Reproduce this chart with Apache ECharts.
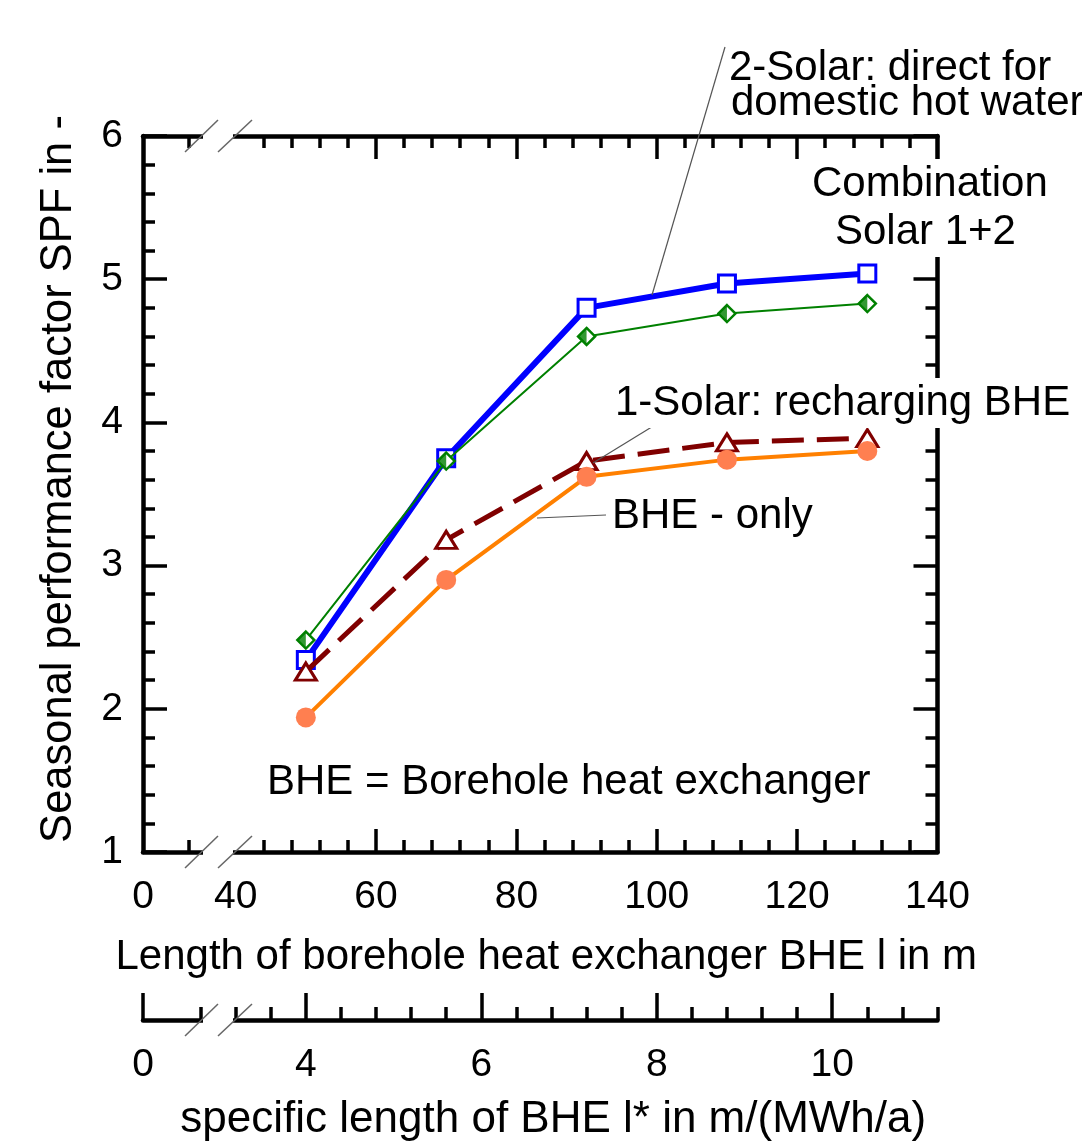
<!DOCTYPE html>
<html><head><meta charset="utf-8">
<script src="https://cdn.jsdelivr.net/npm/echarts@6/dist/echarts.min.js"></script>
<style>html,body{margin:0;padding:0;background:#fff}#c{width:1082px;height:1143px}</style>
</head><body><div id="c"></div>
<script>
// ---- data ----
const lengths = [50, 70, 90, 110, 130];
const solar2Direct = [2.34, 3.75, 4.80, 4.97, 5.04];
const combination = [2.48, 3.73, 4.60, 4.76, 4.83];
const solar1Recharge = [2.26, 3.18, 3.73, 3.86, 3.89];
const bheOnly = [1.94, 2.90, 3.62, 3.74, 3.80];
const lengthTickLabels = [0, 40, 60, 80, 100, 120, 140];
const specTickLabels = [0, 4, 6, 8, 10];
const spfTickLabels = [1, 2, 3, 4, 5, 6];
const specFactor = 12.5; // m of BHE per MWh/a

// ---- axis setup (broken axis: "0" drawn at BREAK_ZERO) ----
const BREAK_ZERO = 26.8;
const X_MAX = 140;
const FONT = "'Liberation Sans', Arial, sans-serif";
const lenAxisVal = v => v === 0 ? BREAK_ZERO : v;
const specAxisVal = s => s === 0 ? BREAK_ZERO : s * specFactor;

const majorLen = lengthTickLabels.filter(v => v > 40 && v < 140);
const minorLen = [33.36];
for (let v = 44; v < 140; v += 4) if (v % 20 !== 0) minorLen.push(v);
const majorSpec = specTickLabels.map(specAxisVal);
const minorSpec = [];
for (let k = 7; k <= 28; k++) { const s = k * 0.4; if (Math.abs(s - Math.round(s / 2) * 2) > 1e-6) minorSpec.push(s * specFactor); }

const pairs = arr => lengths.map((x, i) => [x, arr[i]]);
const lineAxis = { show: true, lineStyle: { color: '#000', width: 4.5 } };
const noLine = { show: false };

function xAx(grid, pos, opts) {
  return Object.assign({
    type: 'value', gridIndex: grid, position: pos, min: BREAK_ZERO, max: X_MAX,
    splitLine: { show: false }, axisLine: noLine, axisLabel: { show: false },
    axisTick: { show: false }
  }, opts);
}
const tickStyle = { color: '#000', width: 3.5 };
const labelStyle = { color: '#000', fontSize: 39, fontFamily: FONT };

const option = {
  animation: false,
  backgroundColor: '#fff',
  grid: [
    { left: 143, right: 144.5, top: 136, bottom: 291 },
    { left: 143, right: 144.5, top: 1019, height: 1 }
  ],
  xAxis: [
    xAx(0, 'bottom', {
      axisLine: lineAxis,
      axisTick: { show: true, inside: true, length: 23, lineStyle: tickStyle, customValues: majorLen },
      axisLabel: { show: true, margin: 26, ...labelStyle, customValues: lengthTickLabels.map(lenAxisVal),
        formatter: v => v < 30 ? '0' : String(Math.round(v)) },
      name: 'Length of borehole heat exchanger BHE l in m', nameLocation: 'middle', nameGap: 84,
      nameTextStyle: { color: '#000', fontSize: 42, fontFamily: FONT, padding: [0, 0, 0, 12] }
    }),
    xAx(0, 'bottom', { axisTick: { show: true, inside: true, length: 12, lineStyle: tickStyle, customValues: minorLen } }),
    xAx(0, 'top', { axisLine: lineAxis, axisTick: { show: true, inside: true, length: 23, lineStyle: tickStyle, customValues: majorLen } }),
    xAx(0, 'top', { axisTick: { show: true, inside: true, length: 12, lineStyle: tickStyle, customValues: minorLen } }),
    xAx(1, 'bottom', {
      axisLine: lineAxis,
      axisTick: { show: true, inside: true, length: 27, lineStyle: tickStyle, customValues: majorSpec },
      axisLabel: { show: true, margin: 26, ...labelStyle, customValues: majorSpec,
        formatter: v => v < 30 ? '0' : String(Math.round(v / specFactor)) },
      name: 'specific length of BHE l* in m/(MWh/a)', nameLocation: 'middle', nameGap: 78,
      nameTextStyle: { color: '#000', fontSize: 44, fontFamily: FONT, padding: [0, 0, 0, 26] }
    }),
    xAx(1, 'bottom', { axisTick: { show: true, inside: true, length: 13, lineStyle: tickStyle, customValues: minorSpec } })
  ],
  yAxis: [
    {
      type: 'value', gridIndex: 0, position: 'left', min: spfTickLabels[0], max: spfTickLabels[spfTickLabels.length - 1], interval: 1,
      splitLine: { show: false }, axisLine: lineAxis,
      axisTick: { show: true, inside: true, length: 24, lineStyle: tickStyle },
      minorTick: { show: true, splitNumber: 5, length: 12, lineStyle: tickStyle },
      axisLabel: { show: true, margin: 20, ...labelStyle },
      name: 'Seasonal performance factor SPF in -', nameLocation: 'middle', nameGap: 62,
      nameTextStyle: { color: '#000', fontSize: 43.5, fontFamily: FONT, padding: [0, 0, 0, 30] }
    },
    {
      type: 'value', gridIndex: 0, position: 'right', min: spfTickLabels[0], max: spfTickLabels[spfTickLabels.length - 1], interval: 1,
      splitLine: { show: false }, axisLine: lineAxis,
      axisTick: { show: true, inside: true, length: 24, lineStyle: tickStyle },
      minorTick: { show: true, splitNumber: 5, length: 12, lineStyle: tickStyle },
      axisLabel: { show: false }
    },
    { type: 'value', gridIndex: 1, show: false, min: 0, max: 1 }
  ],
  series: [
    { name: '2-Solar', type: 'line', xAxisIndex: 0, yAxisIndex: 0, data: pairs(solar2Direct), z: 3,
      lineStyle: { color: '#0000ff', width: 6 }, symbol: 'rect', symbolSize: 17, showAllSymbol: true,
      itemStyle: { color: '#fff', borderColor: '#0000ff', borderWidth: 3 } },
    { name: 'Combination', type: 'line', xAxisIndex: 0, yAxisIndex: 0, data: pairs(combination), z: 4,
      lineStyle: { color: '#008000', width: 2 }, symbol: 'diamond', symbolSize: 17,
      itemStyle: { color: '#fff', borderColor: '#008000', borderWidth: 2.5 } },
    { name: 'Combination-fill', type: 'scatter', xAxisIndex: 0, yAxisIndex: 0, data: pairs(combination), z: 5, silent: true,
      symbol: 'path://M5,0 L0,5 L5,10 Z', symbolSize: [8.5, 17], symbolOffset: [-4.25, 0],
      itemStyle: { color: '#008000' } },
    { name: '1-Solar', type: 'line', xAxisIndex: 0, yAxisIndex: 0, data: pairs(solar1Recharge), z: 6,
      lineStyle: { color: '#800000', width: 5, type: [32, 13] }, symbol: 'triangle', symbolSize: [21, 17],
      itemStyle: { color: '#fff', borderColor: '#800000', borderWidth: 3 } },
    { name: 'BHE only', type: 'line', xAxisIndex: 0, yAxisIndex: 0, data: pairs(bheOnly), z: 7,
      lineStyle: { color: '#ff8000', width: 4 }, symbol: 'circle', symbolSize: 20,
      itemStyle: { color: '#ff7f50', borderWidth: 0 } }
  ],
  graphic: [
    // axis break gaps
    ...[136, 852, 1020].map(y => ({ type: 'rect', z: 100, shape: { x: 203, y: y - 6, width: 30, height: 12 }, style: { fill: '#fff' } })),
    ...[136, 852, 1020].flatMap(y => [
      { type: 'line', z: 101, shape: { x1: 185, y1: y + 16, x2: 218, y2: y - 16 }, style: { stroke: '#666', lineWidth: 1.5 } },
      { type: 'line', z: 101, shape: { x1: 218, y1: y + 16, x2: 252, y2: y - 16 }, style: { stroke: '#666', lineWidth: 1.5 } }
    ]),
    // leader lines
    { type: 'line', z: 50, shape: { x1: 725, y1: 47, x2: 652, y2: 295 }, style: { stroke: '#555', lineWidth: 1.2 } },
    { type: 'line', z: 50, shape: { x1: 668, y1: 417, x2: 593, y2: 463 }, style: { stroke: '#555', lineWidth: 1.2 } },
    { type: 'line', z: 50, shape: { x1: 606, y1: 515, x2: 537, y2: 518 }, style: { stroke: '#555', lineWidth: 1.2 } },
    // annotations
    ...[
      ['2-Solar: direct for', 729, 68, false],
      ['domestic hot water', 731, 103, false],
      ['Combination', 808, 184, true],
      ['Solar 1+2', 831, 232, true],
      ['1-Solar: recharging BHE', 611, 403, true],
      ['BHE - only', 612, 516, false],
      ['BHE = Borehole heat exchanger', 267, 782, false]
    ].map(([t, x, y, bg]) => ({ type: 'text', z: 60, style: Object.assign({ text: t, x, y, fill: '#000', font: '42px ' + FONT, textAlign: 'left', textVerticalAlign: 'middle' },
      bg ? { backgroundColor: '#fff', padding: [4, 4] } : {}) }))
  ]
};
const chart = echarts.init(document.getElementById('c'), null, { renderer: 'canvas' });
chart.setOption(option);
</script></body></html>
